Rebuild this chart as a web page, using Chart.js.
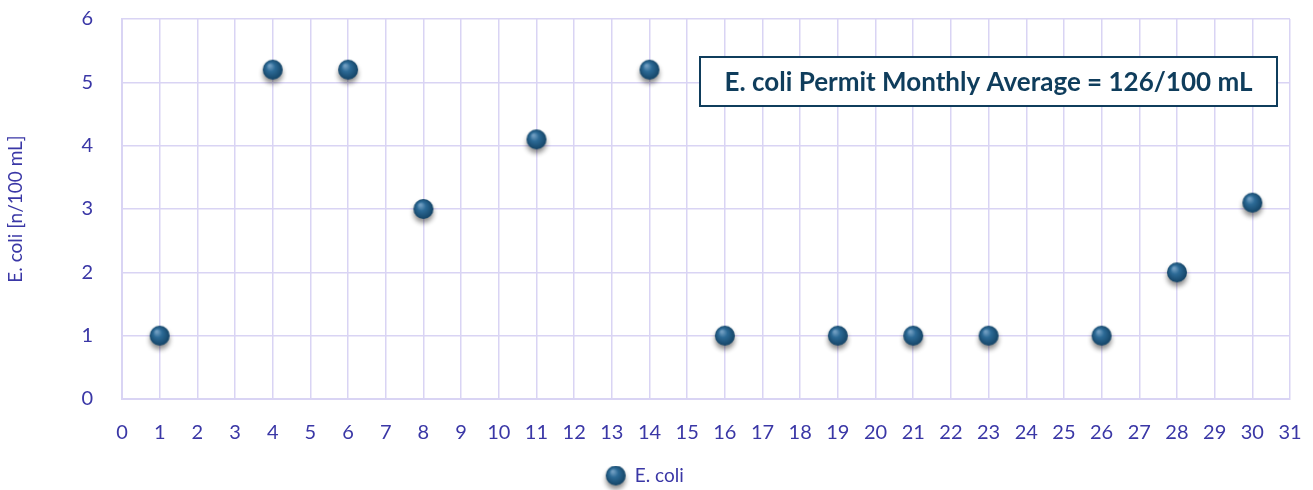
<!DOCTYPE html>
<html>
<head>
<meta charset="utf-8">
<script src="https://cdn.jsdelivr.net/npm/chart.js@4.4.1/dist/chart.umd.min.js"></script>
<style>
    html, body { margin: 0; padding: 0; background: #ffffff; }
    #wrap { width: 1313px; height: 490px; }
</style>
</head>
<body>
<div id="wrap"><canvas id="ecoli"></canvas></div>
<script>
const days = [1, 4, 6, 8, 11, 14, 16, 19, 21, 23, 26, 28, 30];
const ecoliValues = [1, 5.2, 5.2, 3, 4.1, 5.2, 1, 1, 1, 1, 1, 2, 3.1];
const seriesName = 'E. coli';
const yTitle = 'E. coli [n/100 mL]';
const permitNote = 'E. coli Permit Monthly Average = 126/100 mL';

const textColor = '#3a37a6';
const gridColor = '#d9d4f4';
const darkBlue = '#0f3d5c';
const fontFamily = 'Lato, "Open Sans", sans-serif';

// little shaded ball used for the markers and the legend
function makeBall() {
    let c = document.createElement('canvas');
    c.width = 40;
    c.height = 40;
    let g = c.getContext('2d');
    g.shadowColor = 'rgba(0,0,0,0.45)';
    g.shadowBlur = 5;
    g.shadowOffsetY = 4;
    let grad = g.createRadialGradient(17, 16, 1, 20, 20, 11);
    grad.addColorStop(0, '#6e9cc0');
    grad.addColorStop(0.35, '#2c6a96');
    grad.addColorStop(1, '#113f60');
    g.fillStyle = grad;
    g.beginPath();
    g.arc(20, 20, 10, 0, Math.PI * 2);
    g.fill();
    return c;
}

const ball = makeBall();

const noteBox = {
    id: 'noteBox',
    afterDraw(chart) {
        const ctx = chart.ctx;
        ctx.save();
        ctx.font = 'bold 26px ' + fontFamily;
        let x = 700, y = 57, w = 577, h = 49;
        ctx.fillStyle = '#ffffff';
        ctx.fillRect(x, y, w, h);
        ctx.strokeStyle = darkBlue;
        ctx.lineWidth = 2;
        ctx.strokeRect(x, y, w, h);
        ctx.fillStyle = darkBlue;
        ctx.textBaseline = 'middle';
        ctx.textAlign = 'center';
        ctx.fillText(permitNote, x + w / 2, y + h / 2 + 1);
        ctx.restore();
    }
};

new Chart(document.getElementById('ecoli'), {
    type: 'scatter',
    data: {
        datasets: [{
            label: seriesName,
            data: days.map((d, i) => ({ x: d, y: ecoliValues[i] })),
            pointStyle: ball,
            pointRadius: 10,
            pointHoverRadius: 10
        }]
    },
    plugins: [noteBox],
    options: {
        responsive: true,
        maintainAspectRatio: false,
        animation: false,
        layout: {
            padding: { top: 0, right: 23, left: 0, bottom: -5 }
        },
        scales: {
            x: {
                type: 'linear',
                min: 0,
                max: 31,
                grid: {
                    color: gridColor,
                    lineWidth: 1.5,
                    drawTicks: false
                },
                border: { color: gridColor, width: 2 },
                ticks: {
                    stepSize: 1,
                    color: textColor,
                    padding: 22,
                    font: { size: 20, family: fontFamily }
                },
                afterFit: scale => {
                    scale.height = 67;
                    scale.paddingLeft = 0;
                    scale.paddingRight = 10;
                }
            },
            y: {
                min: 0,
                max: 6,
                grid: {
                    color: gridColor,
                    lineWidth: 1.5,
                    drawTicks: false
                },
                border: { color: gridColor, width: 2 },
                ticks: {
                    stepSize: 1,
                    color: textColor,
                    padding: 29,
                    font: { size: 20, family: fontFamily }
                },
                title: {
                    display: true,
                    text: yTitle,
                    color: textColor,
                    padding: { top: 4, bottom: 30 },
                    font: { size: 19, family: fontFamily }
                },
                afterFit: scale => {
                    scale.width = 122;
                    scale.paddingTop = 19;
                    scale.paddingBottom = 12;
                }
            }
        },
        plugins: {
            legend: {
                position: 'bottom',
                labels: {
                    usePointStyle: true,
                    color: textColor,
                    padding: 0,
                    font: { size: 19, lineHeight: 1, family: fontFamily }
                }
            },
            tooltip: { enabled: false }
        }
    }
});
</script>
</body>
</html>
